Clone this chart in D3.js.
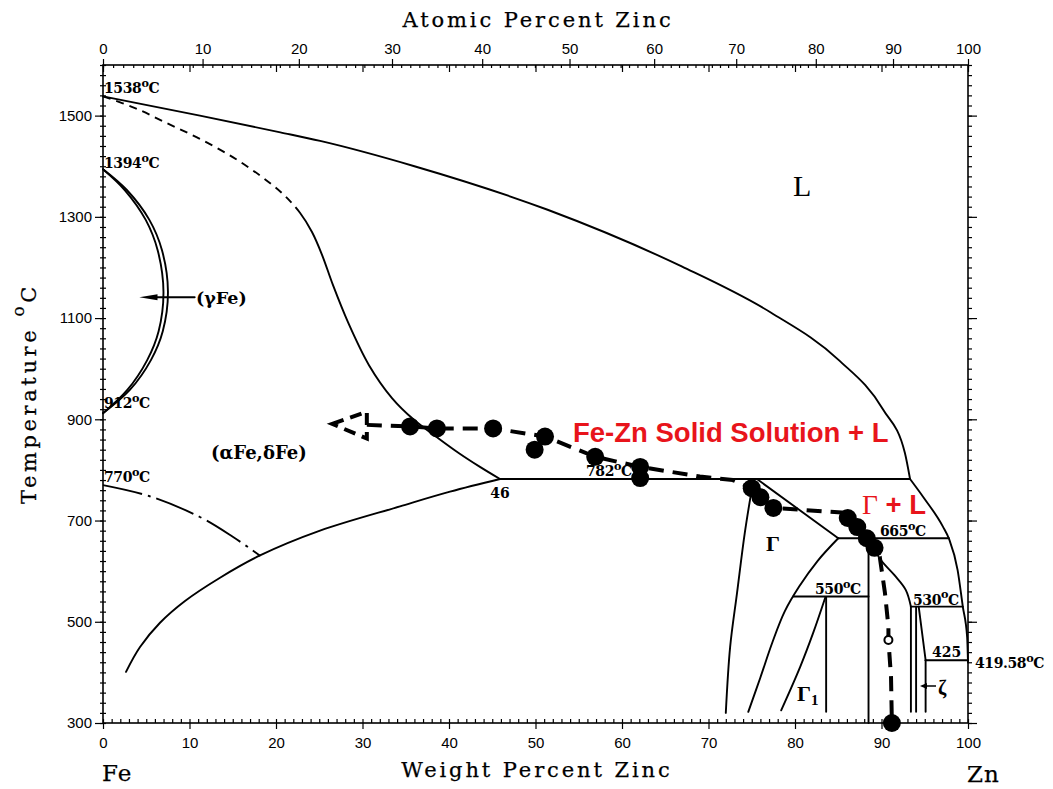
<!DOCTYPE html>
<html>
<head>
<meta charset="utf-8">
<script src="https://cdn.jsdelivr.net/npm/d3@7/dist/d3.min.js"></script>
<style>
  body { margin: 0; background: #fff; }
  text { fill: #000; }
</style>
</head>
<body>
<svg id="chart" width="1053" height="789"></svg>
<script>
// ---- Fe-Zn phase boundaries: [weight % Zn, temperature °C] ----
const liquidusHigh = [[0,1538],[11.2,1500],[20.5,1467],[25.1,1450],[36,1400],[51.4,1314],[66.9,1202],[77.2,1111],[85,1018],[90.2,919],[92.7,834],[93.3,782]];
const liquidusLow  = [[93.3,782],[94.8,747],[97.1,688],[97.8,664],[98.8,602],[99.4,530],[99.9,470],[100,419.58]];
const deltaFeDashed = [[0,1538],[3.7,1515],[7.4,1485],[11.2,1454],[15.0,1418],[18.2,1381],[20.81,1345],[22.77,1308]];
const alphaSolidus  = [[22.77,1308],[24.16,1270],[25.32,1225],[26.59,1165],[28.32,1092],[30.75,1007],[33.41,942],[35.95,899],[38.73,863],[41.16,833],[43.58,806],[45.9,782]];
const alphaSolvus   = [[2.66,401],[4.28,450],[6.59,498],[9.48,541],[13.53,587],[18.15,631],[25.09,680],[34.34,728],[40.12,757],[45.9,782]];
const curieLine     = [[0,770],[5.4,748],[11.2,707],[15,668],[18.2,630]];
const gammaOuter    = [[0,1394],[2.76,1353],[5.36,1294],[6.82,1234],[7.51,1152],[6.91,1074],[5.54,1017],[3.10,958],[0,912]];
const gammaInner    = [[0,1394],[2.51,1353],[4.94,1294],[6.32,1234],[6.99,1152],[6.43,1074],[5.11,1017],[2.81,958],[0,912]];
const gammaLeft     = [[72.0,320],[72.5,450],[73.3,557],[74.2,676],[75.2,782]];
const gammaSolidus  = [[75.6,782],[85,665]];
const gammaRight    = [[85,665],[82.6,620],[80.5,570],[78.8,520],[77.4,460],[76.0,390],[74.6,322]];
const gamma1Left    = [[78.4,325],[80.6,411],[82.1,478],[83.5,548]];
const deltaRight    = [[88.7,665],[89.8,625],[91.5,592],[92.8,563],[93.4,530]];
// straight segments (vertical/horizontal)
const segments = [
  [[45.9,782],[93.3,782]],   // peritectic 782
  [[85,665],[97.8,665]],     // peritectic 665
  [[79.8,550],[88.5,550]],   // 550
  [[93.4,530],[99.4,530]],   // 530
  [[95.1,424],[100,424]],    // 425 / 419.58
  [[83.6,548],[83.6,322]],   // Γ1 right
  [[88.5,665],[88.5,300]],   // δ left
  [[93.4,530],[93.4,322]],   // ζ
  [[94.0,530],[94.0,322]],
  [[94.3,530],[95.1,424]],
  [[95.1,424],[95.1,322]]
];

// ---- Measured path (overlay) ----
const pathPoints = [[30.5,889],[35.5,886],[38.6,882],[45.1,882],[51.1,866],[56.9,826],[62.1,806],[69.0,787],[72.8,780],[75.0,764],[76.0,746],[77.5,725],[86.0,715],[86.1,705],[87.2,687],[88.3,665],[89.2,646],[89.8,628],[90.4,557],[90.8,490],[90.8,464],[91.1,391],[91.2,300]];
const samplePoints = [[35.5,886],[38.6,882],[45.1,882],[51.1,866],[49.9,840],[56.9,826],[62.1,806],[62.1,784],[75.0,764],[76.0,746],[77.5,725],[86.1,705],[87.2,687],[88.3,665],[89.2,646],[91.2,300]];
const openPoint = [[90.8,464]];
const arrowTriangle = [[26.5,891],[30.5,915],[30.5,862]];

// ---- Axis ticks ----
const wtMajor = d3.range(0, 101, 10);
const wtMinor = d3.range(0, 101, 1);
const atMajor = d3.range(0, 101, 10);
const atMinor = d3.range(0, 101, 1);
const tempMajor = [300, 500, 700, 900, 1100, 1300, 1500];
const tempMinor = d3.range(300, 1601, 20);

const M_FE = 55.845, M_ZN = 65.38;
const atToWt = a => 100 * a * M_ZN / (a * M_ZN + (100 - a) * M_FE);

const svg = d3.select('#chart');
const L = 103, R = 968, T = 65, B = 723;
const x = d3.scaleLinear().domain([0, 100]).range([L, R]);
const y = d3.scaleLinear().domain([300, 1600]).range([B, T]);

const numFont = 'Liberation Sans, Arial, sans-serif';
const serif = 'DejaVu Serif, serif';

// ---- axes ----
function cleanAxis(g) { g.select('.domain').remove(); g.selectAll('line').attr('stroke', '#000').attr('stroke-width', 1.2); }

// bottom: labelled majors outward, minors inward
svg.append('g').attr('transform', `translate(0,${B})`)
  .call(d3.axisBottom(x).tickValues(wtMajor).tickSize(6).tickPadding(8).tickFormat(d3.format('d')))
  .call(cleanAxis)
  .call(g => g.selectAll('text').attr('font-family', numFont).attr('font-size', 15).attr('fill', '#000'));
svg.append('g').attr('transform', `translate(0,${B})`)
  .call(d3.axisTop(x).tickValues(wtMinor).tickSize(4).tickFormat(''))
  .call(cleanAxis);

// top: atomic percent labels outward, atomic minors + weight majors inward
svg.append('g').attr('transform', `translate(0,${T})`)
  .call(d3.axisTop(x).tickValues(atMajor.map(atToWt)).tickSize(6).tickPadding(5)
    .tickFormat((d, i) => atMajor[i]))
  .call(cleanAxis)
  .call(g => g.selectAll('text').attr('font-family', numFont).attr('font-size', 15).attr('fill', '#000'));
svg.append('g').attr('transform', `translate(0,${T})`)
  .call(d3.axisBottom(x).tickValues(atMinor.map(atToWt)).tickSize(3).tickFormat(''))
  .call(cleanAxis);
svg.append('g').attr('transform', `translate(0,${T})`)
  .call(d3.axisBottom(x).tickValues(wtMajor).tickSize(7).tickFormat(''))
  .call(cleanAxis);

// left: labelled majors outward, minors crossing
svg.append('g').attr('transform', `translate(${L},0)`)
  .call(d3.axisLeft(y).tickValues(tempMajor).tickSize(8).tickPadding(3).tickFormat(d3.format('d')))
  .call(cleanAxis)
  .call(g => g.selectAll('text').attr('font-family', numFont).attr('font-size', 15).attr('fill', '#000'));
svg.append('g').attr('transform', `translate(${L},0)`)
  .call(d3.axisLeft(y).tickValues(tempMinor).tickSize(3).tickFormat('')).call(cleanAxis);
svg.append('g').attr('transform', `translate(${L},0)`)
  .call(d3.axisRight(y).tickValues(tempMinor).tickSize(3).tickFormat('')).call(cleanAxis);

// right: minors and majors outward
svg.append('g').attr('transform', `translate(${R},0)`)
  .call(d3.axisRight(y).tickValues(tempMinor).tickSize(4).tickFormat('')).call(cleanAxis);
svg.append('g').attr('transform', `translate(${R},0)`)
  .call(d3.axisRight(y).tickValues(tempMajor).tickSize(9).tickFormat('')).call(cleanAxis);

// frame
svg.append('rect').attr('x', L).attr('y', T).attr('width', R - L).attr('height', B - T)
  .attr('fill', 'none').attr('stroke', '#000').attr('stroke-width', 1.6);

// axis titles (widely spaced serif)
const titleStyle = t => t.attr('font-family', serif).attr('font-size', 21)
  .attr('stroke', '#000').attr('stroke-width', 0.25);
svg.append('text').attr('x', 538).attr('y', 27).attr('text-anchor', 'middle').call(titleStyle)
  .attr('letter-spacing', 2.9).text('Atomic Percent Zinc');
svg.append('text').attr('x', 537).attr('y', 777).attr('text-anchor', 'middle').call(titleStyle)
  .attr('letter-spacing', 2.9).text('Weight Percent Zinc');
svg.append('text').attr('x', 102).attr('y', 781).call(titleStyle).attr('font-size', 23)
  .attr('letter-spacing', 1).text('Fe');
svg.append('text').attr('x', 967).attr('y', 782).call(titleStyle).attr('font-size', 23)
  .attr('letter-spacing', 1).text('Zn');
const yt = svg.append('text').attr('transform', 'translate(36,504) rotate(-90)').call(titleStyle)
  .attr('letter-spacing', 3.6);
yt.append('tspan').text('Temperature ');
yt.append('tspan').attr('dy', -12).attr('font-size', 17).text('o');
yt.append('tspan').attr('dy', 12).text('C');

// ---- phase boundaries ----
const smooth = d3.line().x(d => x(d[0])).y(d => y(d[1])).curve(d3.curveCatmullRom.alpha(0.5));
const mono = d3.line().x(d => x(d[0])).y(d => y(d[1])).curve(d3.curveMonotoneX);
const straight = d3.line().x(d => x(d[0])).y(d => y(d[1]));
const phase = svg.append('g').attr('fill', 'none').attr('stroke', '#000').attr('stroke-width', 1.9)
  .attr('stroke-linecap', 'round');

[liquidusHigh, liquidusLow].forEach(c => phase.append('path').attr('d', mono(c)));
[alphaSolvus, gammaOuter, gammaInner, gammaLeft, gammaRight, gamma1Left, deltaRight]
  .forEach(c => phase.append('path').attr('d', smooth(c)));
phase.append('path').attr('d', straight(gammaSolidus));
segments.forEach(s => phase.append('path').attr('d', straight(s)));
phase.append('path').attr('d', smooth(curieLine)).attr('stroke-dasharray', '40 6 3 6').attr('stroke-linecap', 'butt');

// (δFe) solidus: dashed upper part flowing into the solid (αFe) boundary
const alphaFull = deltaFeDashed.concat(alphaSolidus.slice(1));
const solidusPath = phase.append('path').attr('d', smooth(alphaFull)).attr('stroke-linecap', 'butt');
{
  const node = solidusPath.node();
  const total = node.getTotalLength();
  const xJoin = x(deltaFeDashed[deltaFeDashed.length - 1][0]);
  let lj = 0;
  while (lj < total && node.getPointAtLength(lj).x < xJoin) lj += 0.5;
  const arr = [];
  let s = 0;
  while (s + 14 <= lj) { arr.push(8, 6); s += 14; }
  arr.push(total + 10, 0);
  solidusPath.attr('stroke-dasharray', arr.join(' '));
}

// (γFe) arrow
const ay = y(1141);
phase.append('line').attr('x1', x(10.6)).attr('x2', x(5.6)).attr('y1', ay).attr('y2', ay);
svg.append('path').attr('d', `M${x(4.2)},${ay} L${x(6.3)},${ay - 3} L${x(6.3)},${ay + 3} Z`).attr('fill', '#000');

// ---- labels ----
const lab = svg.append('g').attr('font-family', serif).attr('font-weight', 'bold');
function deg(px, py, num, size, anchor) {
  const t = lab.append('text').attr('x', px).attr('y', py).attr('font-size', size)
    .attr('letter-spacing', -0.4).attr('text-anchor', anchor || 'start');
  t.append('tspan').text(num);
  t.append('tspan').attr('dy', -size * 0.45).attr('font-size', size * 0.8).text('o');
  t.append('tspan').attr('dy', size * 0.45).text('C');
  return t;
}
deg(x(0) + 1, y(1538) - 3, '1538', 14);
deg(x(0) + 1, y(1394) - 1, '1394', 14);
deg(x(0) + 1, y(912) - 5, '912', 14);
deg(x(0) + 1, y(770) - 3, '770', 14);
deg(586, y(782) - 3, '782', 14);
deg(880, y(665) - 2, '665', 14);
deg(815, y(550) - 2, '550', 14);
deg(913, y(530) - 2, '530', 14);
deg(975, y(419.58) + 6, '419.58', 14);
lab.append('text').attr('x', x(45.9)).attr('y', y(782) + 19).attr('text-anchor', 'middle')
  .attr('font-size', 14).text('46');
lab.append('text').attr('x', 932).attr('y', y(425) - 3).attr('font-size', 14).text('425');
lab.append('text').attr('x', 211).attr('y', 459).attr('font-size', 18).text('(αFe,δFe)');
lab.append('text').attr('x', 196).attr('y', y(1141) + 7).attr('font-size', 17.5).text('(γFe)');
svg.append('text').attr('x', 793).attr('y', 196).attr('font-family', 'Liberation Serif, serif')
  .attr('font-size', 30).text('L');
const sym = svg.append('g').attr('font-family', 'Liberation Serif, serif').attr('font-weight', 'bold');
sym.append('text').attr('x', 766).attr('y', 551).attr('font-size', 22).text('Γ');
const g1 = sym.append('text').attr('x', 797).attr('y', 701).attr('font-size', 22);
g1.append('tspan').text('Γ');
g1.append('tspan').attr('dy', 4).attr('font-size', 15).text('1');
sym.append('text').attr('x', 938).attr('y', 695).attr('font-size', 20).text('ζ');
// ζ arrow
const zy = 686;
svg.append('line').attr('x1', 936).attr('x2', 925).attr('y1', zy).attr('y2', zy).attr('stroke', '#000').attr('stroke-width', 1.5);
svg.append('path').attr('d', `M920,${zy} L927,${zy - 3} L927,${zy + 3} Z`).attr('fill', '#000');

// ---- measured path overlay ----
const over = svg.append('g');
over.append('path').attr('d', straight(pathPoints)).attr('fill', 'none').attr('stroke', '#000')
  .attr('stroke-width', 4).attr('stroke-dasharray', '15 9');
over.append('path').attr('d', straight(arrowTriangle) + 'Z').attr('fill', 'none').attr('stroke', '#000')
  .attr('stroke-width', 4).attr('stroke-dasharray', '12 7');
over.selectAll('circle.s').data(samplePoints).join('circle').attr('class', 's')
  .attr('cx', d => x(d[0])).attr('cy', d => y(d[1])).attr('r', 9).attr('fill', '#000');
over.selectAll('circle.o').data(openPoint).join('circle').attr('class', 'o')
  .attr('cx', d => x(d[0])).attr('cy', d => y(d[1])).attr('r', 4).attr('fill', '#fff')
  .attr('stroke', '#000').attr('stroke-width', 2);

// red annotations
const red = svg.append('g').attr('font-family', 'Liberation Sans, Arial, sans-serif')
  .attr('font-weight', 'bold').attr('font-size', 27.5);
red.append('text').attr('x', 573).attr('y', 442).style('fill', '#e8141b').text('Fe-Zn Solid Solution + L');
const gl = red.append('text').attr('x', 862).attr('y', 514).style('fill', '#e8141b');
gl.append('tspan').attr('font-family', 'Liberation Serif, serif').attr('font-weight', 'normal').text('Γ');
gl.append('tspan').text(' + L');
</script>
</body>
</html>
